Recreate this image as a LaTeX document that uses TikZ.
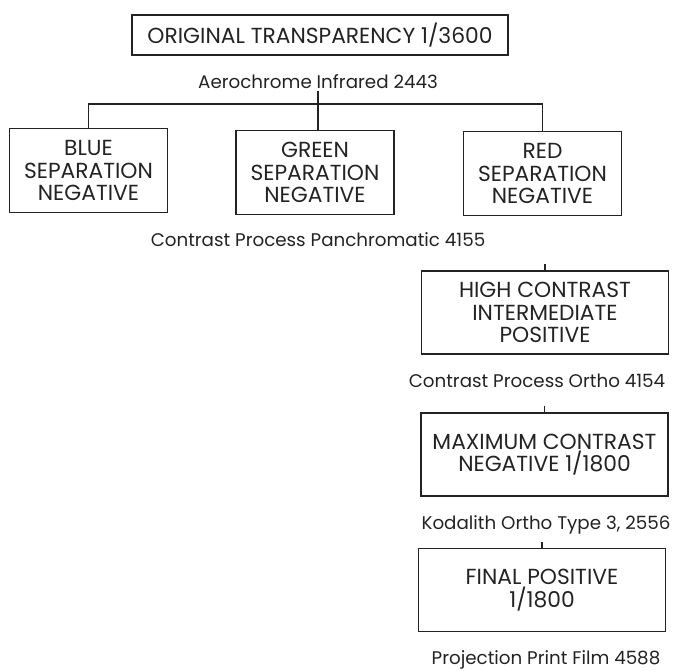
\documentclass[tikz,border=0pt]{standalone}
\usepackage{fontspec}
\setmainfont{Poppins}
\usepackage{tikz}
\usetikzlibrary{positioning}
\definecolor{ink}{RGB}{35,35,35}

\begin{document}
\begin{tikzpicture}[
  x=0.025cm, y=-0.025cm,
  every node/.style={font=\fontsize{15.5}{16}\selectfont, text=ink},
  box/.style={draw=ink, line width=1.2pt, inner sep=0pt, align=center},
  origbox/.style={box, minimum width=9.4cm, minimum height=1cm},
  sepbox/.style={box, minimum width=3.95cm, minimum height=2.1cm},
  stagebox/.style={box, minimum width=6.18cm, minimum height=2.08cm},
  film/.style={inner sep=1pt, font=\fontsize{13}{14}\selectfont},
  link/.style={draw=ink, line width=1.2pt}
]
\useasboundingbox (0,0) rectangle (679,671);

\node[origbox] (orig) at (320,35) {ORIGINAL TRANSPARENCY 1/3600};
\node[film] (f0) at (318,82) {Aerochrome Infrared 2443};

\node[sepbox] (blue) at (88.5,170.5) {BLUE\\SEPARATION\\NEGATIVE};
\node[sepbox] (green) at (315,172.5) {GREEN\\SEPARATION\\NEGATIVE};
\node[sepbox] (red) at (542.5,173.5) {RED\\SEPARATION\\NEGATIVE};
\node[film] (f1) at (318,240) {Contrast Process Panchromatic 4155};

\node[stagebox] (hc) at (545,312.5) {HIGH CONTRAST\\INTERMEDIATE\\POSITIVE};
\node[film] (f2) at (537,381) {Contrast Process Ortho 4154};
\node[stagebox] (maxneg) at (544.5,454.5) {MAXIMUM CONTRAST\\NEGATIVE 1/1800};
\node[film] (f3) at (546,525) {Kodalith Ortho Type 3, 2556};
\node[stagebox] (final) at (542,590) {FINAL POSITIVE\\1/1800};
\node[film] (f4) at (546,660) {Projection Print Film 4588};

% separation tree
\draw[link] (f0.south) -- ++(0,13) coordinate (bus);
\draw[link] (blue.north) |- (bus) -| (red.north);
\draw[link] (bus) -- (bus |- green.north);

% ticks into the right column
\foreach \b in {hc, maxneg, final}
  \draw[link] (\b.north) -- ++(0,-6);
\end{tikzpicture}
\end{document}
